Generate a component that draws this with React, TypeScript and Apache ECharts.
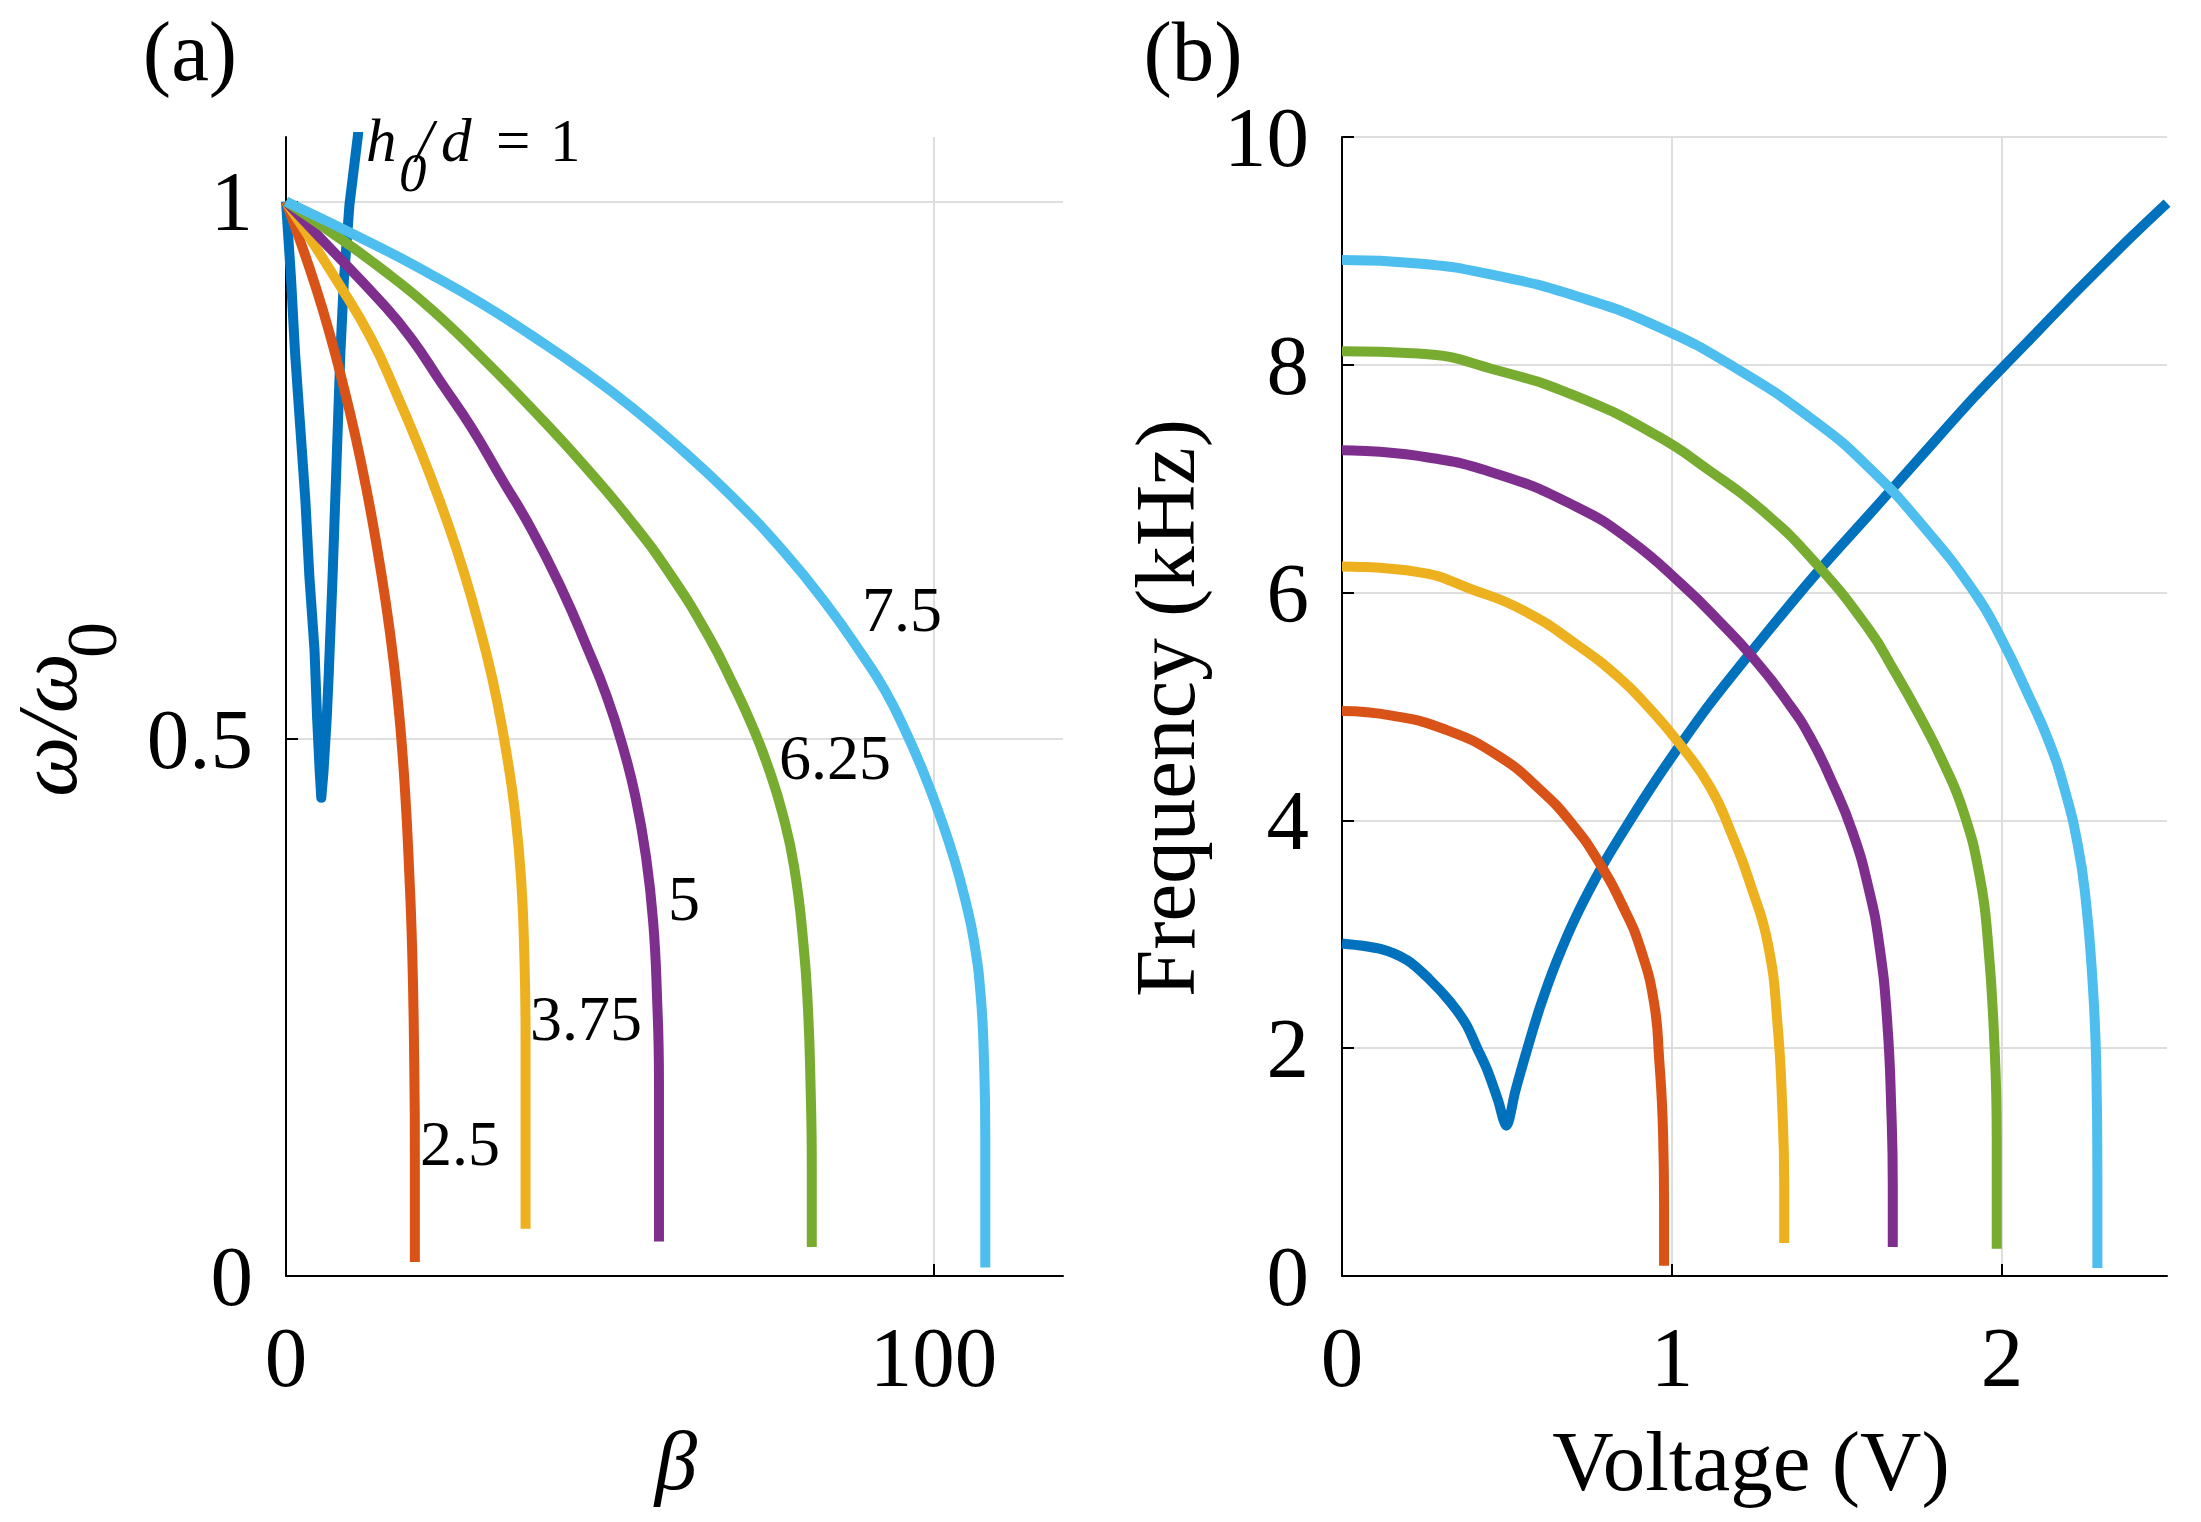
import React, { useEffect, useRef } from 'react';
import * as echarts from 'echarts';

const COLORS = ['#0072BD', '#D95319', '#EDB120', '#7E2F8E', '#77AC30', '#4DBEEE'];
const SERIF = 'Liberation Serif';

// ---------- Panel (a): omega/omega0 vs beta ----------
const hdValues = ['1', '2.5', '3.75', '5', '6.25', '7.5'];

const aHd1: number[][] = [
  [0, 1], [0.78, 0.928], [1.4, 0.859], [2.2, 0.79], [3.0, 0.721], [3.6, 0.652],
  [4.4, 0.583], [4.8, 0.52], [5.2, 0.47], [5.45, 0.445], [5.8, 0.47], [6.3, 0.52],
  [6.6, 0.56], [7.2, 0.652], [7.8, 0.756], [8.4, 0.859], [8.95, 0.928],
  [9.8, 0.997], [11.1, 1.061], [11.5, 1.09],
];
const aHd25: number[][] = [
  [0, 1], [2.2, 0.963], [4.5, 0.922], [6.7, 0.878], [8.8, 0.83], [10.7, 0.782],
  [12.4, 0.733], [14.0, 0.68], [15.4, 0.627], [16.6, 0.573], [17.6, 0.515],
  [18.4, 0.45], [19.0, 0.38], [19.5, 0.3], [19.8, 0.2], [19.9, 0.1], [19.9, 0.013],
];
const aHd375: number[][] = [
  [0, 1], [8.4, 0.921], [13.1, 0.873], [17.0, 0.822], [20.9, 0.766], [24.0, 0.717],
  [26.3, 0.677], [28.6, 0.632], [31.0, 0.578], [32.6, 0.535], [34.1, 0.485],
  [35.4, 0.43], [36.3, 0.37], [36.8, 0.3], [37.0, 0.22], [37.0, 0.044],
];
const aHd5: number[][] = [
  [0, 1], [5.3, 0.966], [14.6, 0.907], [19.3, 0.873], [24.0, 0.831], [28.6, 0.79],
  [33.3, 0.742], [38.0, 0.694], [42.6, 0.639], [46.5, 0.585], [49.5, 0.54],
  [52.0, 0.493], [54.0, 0.445], [55.6, 0.39], [56.7, 0.33], [57.3, 0.26],
  [57.6, 0.18], [57.6, 0.032],
];
const aHd625: number[][] = [
  [0, 1], [6.8, 0.972], [14.6, 0.938], [22.4, 0.9], [30.2, 0.855], [38.0, 0.807],
  [45.8, 0.756], [53.5, 0.701], [59.8, 0.649], [65.2, 0.596], [69.1, 0.55],
  [72.0, 0.512], [74.5, 0.473], [76.7, 0.43], [78.5, 0.38], [79.9, 0.31],
  [80.6, 0.25], [81.0, 0.18], [81.2, 0.1], [81.2, 0.027],
];
const aHd75: number[][] = [
  [0, 1], [14.6, 0.957], [22.4, 0.932], [30.2, 0.905], [38.0, 0.875], [45.8, 0.843],
  [53.5, 0.808], [61.3, 0.768], [69.1, 0.724], [76.9, 0.674], [83.5, 0.625],
  [89.0, 0.578], [92.5, 0.545], [95.6, 0.508], [98.5, 0.468], [101.0, 0.428],
  [103.2, 0.388], [104.9, 0.35], [106.3, 0.31], [107.3, 0.26], [107.8, 0.2],
  [108.0, 0.13], [108.0, 0.008],
];

// ---------- Panel (b): frequency (kHz) vs voltage (V) ----------
const bHd1: number[][] = [
  [0, 2.92], [0.119, 2.87], [0.199, 2.77], [0.263, 2.61], [0.327, 2.41], [0.376, 2.21],
  [0.408, 2.01], [0.44, 1.81], [0.472, 1.55], [0.498, 1.32], [0.525, 1.62],
  [0.56, 1.98], [0.6, 2.36], [0.65, 2.76], [0.713, 3.18], [0.793, 3.62],
  [0.873, 4.0], [0.953, 4.36], [1.034, 4.7], [1.114, 5.02], [1.274, 5.6],
  [1.435, 6.16], [1.596, 6.68], [1.756, 7.2], [1.917, 7.72], [2.077, 8.2],
  [2.238, 8.68], [2.398, 9.14], [2.5, 9.42],
];
const bHd25: number[][] = [
  [0, 4.96], [0.151, 4.92], [0.311, 4.8], [0.472, 4.57], [0.6, 4.27], [0.697, 3.97],
  [0.777, 3.64], [0.857, 3.21], [0.905, 2.87], [0.945, 2.41], [0.961, 1.91],
  [0.973, 1.25], [0.976, 0.6], [0.976, 0.09],
];
const bHd375: number[][] = [
  [0, 6.23], [0.231, 6.18], [0.392, 6.03], [0.552, 5.84], [0.713, 5.54], [0.841, 5.25],
  [0.93, 4.99], [1.018, 4.69], [1.114, 4.3], [1.178, 3.9], [1.242, 3.4],
  [1.291, 2.91], [1.319, 2.24], [1.335, 1.42], [1.34, 0.8], [1.34, 0.29],
];
const bHd5: number[][] = [
  [0, 7.25], [0.231, 7.2], [0.472, 7.04], [0.713, 6.75], [0.873, 6.46], [1.034, 6.06],
  [1.146, 5.74], [1.242, 5.44], [1.355, 5.02], [1.419, 4.73], [1.483, 4.35],
  [1.547, 3.9], [1.596, 3.4], [1.628, 2.91], [1.652, 2.24], [1.665, 1.42],
  [1.669, 0.8], [1.669, 0.255],
];
const bHd625: number[][] = [
  [0, 8.12], [0.231, 8.1], [0.472, 7.95], [0.713, 7.72], [0.953, 7.38], [1.114, 7.07],
  [1.274, 6.72], [1.435, 6.26], [1.596, 5.68], [1.676, 5.3], [1.748, 4.93],
  [1.82, 4.52], [1.884, 4.07], [1.933, 3.5], [1.957, 2.95], [1.976, 2.1],
  [1.984, 1.2], [1.984, 0.24],
];
const bHd75: number[][] = [
  [0, 8.92], [0.231, 8.89], [0.472, 8.78], [0.713, 8.6], [0.953, 8.34], [1.194, 7.97],
  [1.435, 7.5], [1.596, 7.1], [1.756, 6.6], [1.917, 6.0], [1.997, 5.6],
  [2.08, 5.1], [2.141, 4.7], [2.189, 4.28], [2.23, 3.78], [2.254, 3.3],
  [2.273, 2.65], [2.286, 1.8], [2.289, 0.92], [2.289, 0.07],
];

const panelA = [aHd1, aHd25, aHd375, aHd5, aHd625, aHd75];
const panelB = [bHd1, bHd25, bHd375, bHd5, bHd625, bHd75];

// axis ticks
const aXTicks = [0, 100];
const aYTicks = [0, 0.5, 1];
const bXTicks = [0, 1, 2];
const bYTicks = [0, 2, 4, 6, 8, 10];

// curve annotations (panel a)
const curveLabels = ['2.5', '3.75', '5', '6.25', '7.5'];

const AXIS_COLOR = '#000';
const GRID_COLOR = '#dedede';

function makeAxis(kind: 'x' | 'y', gridIndex: number, min: number, max: number, interval: number, ticks: number[]) {
  return {
    type: 'value',
    gridIndex,
    min,
    max,
    interval,
    axisLine: { show: true, onZero: false, lineStyle: { color: AXIS_COLOR, width: 2 } },
    axisTick: { show: true, inside: true, length: 12, customValues: ticks, lineStyle: { color: AXIS_COLOR, width: 2 } },
    axisLabel: {
      show: true,
      customValues: ticks,
      fontFamily: SERIF,
      fontSize: 85,
      color: '#000',
      margin: kind === 'x' ? 81 : 33,
      verticalAlign: 'middle',
      formatter: (v: number) => String(v),
    },
    splitLine: { show: true, showMinLine: false, showMaxLine: true, lineStyle: { color: GRID_COLOR, width: 2 } },
  };
}

function makeSeries(data: number[][], idx: number, axis: number) {
  return {
    name: 'h0/d = ' + hdValues[idx] + (axis ? ' (b)' : ' (a)'),
    type: 'line',
    xAxisIndex: axis,
    yAxisIndex: axis,
    data,
    showSymbol: false,
    symbol: 'none',
    smooth: idx === 0 ? (axis ? 0.3 : false) : 0.5,
    clip: true,
    silent: true,
    lineStyle: { color: COLORS[idx], width: 10, cap: 'butt', join: 'round' },
    itemStyle: { color: COLORS[idx] },
  };
}

function txt(text: string, x: number, y: number, size: number, opts: any = {}) {
  return {
    type: 'text',
    x,
    y,
    rotation: opts.rotation || 0,
    z: 100,
    style: {
      text,
      fontFamily: SERIF,
      fontSize: size,
      fontStyle: opts.italic ? 'italic' : 'normal',
      fill: '#000',
      align: opts.align || 'left',
      verticalAlign: 'middle',
    },
  };
}

const labelPos: number[][] = [
  [420, 1143], [530, 1018], [668, 898], [779, 757], [862, 609],
];

function buildOption() {
  const series: any[] = [];
  panelA.forEach((d, i) => series.push(makeSeries(d, i, 0)));
  panelB.forEach((d, i) => series.push(makeSeries(d, i, 1)));

  const graphic: any[] = [
    txt('(a)', 190, 51, 85, { align: 'center' }),
    txt('(b)', 1193, 51, 85, { align: 'center' }),
    txt('h', 366, 140, 61, { italic: true }),
    txt('0', 399, 172, 55, { italic: true }),
    txt('/', 416, 140, 61, { italic: true }),
    txt('d', 441, 140, 61, { italic: true }),
    txt('=', 496, 140, 61),
    txt('1', 550, 140, 61),
    txt('ω/ω', 47, 725, 85, { italic: true, align: 'center', rotation: Math.PI / 2 }),
    txt('0', 92, 640, 72, { align: 'center', rotation: Math.PI / 2 }),
    txt('β', 676, 1460, 85, { italic: true, align: 'center' }),
    txt('Voltage (V)', 1751, 1461, 85, { align: 'center' }),
    txt('Frequency (kHz)', 1165, 708, 85, { align: 'center', rotation: Math.PI / 2 }),
  ];
  curveLabels.forEach((t, i) => graphic.push(txt(t, labelPos[i][0], labelPos[i][1], 64)));

  return {
    animation: false,
    backgroundColor: '#ffffff',
    textStyle: { fontFamily: SERIF },
    grid: [
      { left: 286, right: 1138, top: 137, bottom: 246, containLabel: false },
      { left: 1342, right: 34, top: 137, bottom: 246, containLabel: false },
    ],
    xAxis: [
      makeAxis('x', 0, 0, 120, 100, aXTicks),
      makeAxis('x', 1, 0, 2.5, 1, bXTicks),
    ],
    yAxis: [
      makeAxis('y', 0, 0, 1.06, 0.5, aYTicks),
      makeAxis('y', 1, 0, 10, 2, bYTicks),
    ],
    series,
    graphic,
  };
}

export default function App() {
  const ref = useRef<HTMLDivElement>(null);
  useEffect(() => {
    if (!ref.current) return;
    const chart = echarts.init(ref.current, null, { renderer: 'svg' });
    chart.setOption(buildOption() as any);
    return () => chart.dispose();
  }, []);
  return (
    <div
      ref={ref}
      style={{ position: 'fixed', left: 0, top: 0, width: 2201, height: 1522, background: '#fff' }}
    />
  );
}
